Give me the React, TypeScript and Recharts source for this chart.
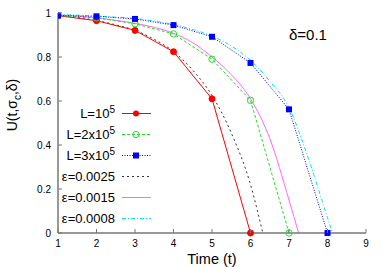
import React from "react";
import { LineChart, Line, XAxis, YAxis } from "recharts";

const xTicks = [1, 2, 3, 4, 5, 6, 7, 8, 9];
const yTicks = [0, 0.2, 0.4, 0.6, 0.8, 1];

const seriesL1 = [
  { x: 1, y: 0.988 }, { x: 2, y: 0.965 }, { x: 3, y: 0.921 }, { x: 4, y: 0.824 },
  { x: 5, y: 0.61 }, { x: 6, y: 0 },
];
const seriesL2 = [
  { x: 1, y: 0.988 }, { x: 2, y: 0.978 }, { x: 3, y: 0.951 }, { x: 4, y: 0.905 },
  { x: 5, y: 0.79 }, { x: 6, y: 0.603 }, { x: 7, y: 0 },
];
const seriesL3 = [
  { x: 1, y: 0.988 }, { x: 2, y: 0.985 }, { x: 3, y: 0.973 }, { x: 4, y: 0.945 },
  { x: 5, y: 0.892 }, { x: 6, y: 0.773 }, { x: 7, y: 0.562 }, { x: 8, y: 0 },
];
const seriesE1 = [
  { x: 1, y: 0.99 }, { x: 1.5, y: 0.98 }, { x: 2, y: 0.966 }, { x: 2.5, y: 0.946 },
  { x: 3, y: 0.921 }, { x: 3.5, y: 0.88 }, { x: 4, y: 0.825 }, { x: 4.5, y: 0.74 },
  { x: 5, y: 0.625 }, { x: 5.5, y: 0.455 }, { x: 6, y: 0.22 }, { x: 6.32, y: 0 },
];
const seriesE2 = [
  { x: 1, y: 0.992 }, { x: 1.5, y: 0.986 }, { x: 2, y: 0.978 }, { x: 2.5, y: 0.967 },
  { x: 3, y: 0.953 }, { x: 3.5, y: 0.935 }, { x: 4, y: 0.908 }, { x: 4.5, y: 0.865 },
  { x: 5, y: 0.8 }, { x: 5.5, y: 0.72 }, { x: 6, y: 0.61 }, { x: 6.5, y: 0.43 },
  { x: 7, y: 0.15 }, { x: 7.25, y: 0 },
];
const seriesE3 = [
  { x: 1, y: 0.993 }, { x: 1.5, y: 0.99 }, { x: 2, y: 0.986 }, { x: 2.5, y: 0.981 },
  { x: 3, y: 0.975 }, { x: 3.5, y: 0.963 }, { x: 4, y: 0.948 }, { x: 4.5, y: 0.925 },
  { x: 5, y: 0.895 }, { x: 5.5, y: 0.85 }, { x: 6, y: 0.785 }, { x: 6.5, y: 0.69 },
  { x: 7, y: 0.57 }, { x: 7.5, y: 0.34 }, { x: 8, y: 0.07 }, { x: 8.13, y: 0 },
];

const FONT = "'Liberation Sans', Arial, sans-serif";
const AXIS = "#777777";

const BottomTick = (p: any) => (
  <g>
    <line x1={p.x} y1={p.y} x2={p.x} y2={p.y - 4} stroke={AXIS} />
    <text x={p.x} y={p.y + 14} textAnchor="middle" fontSize={10} fontFamily={FONT} fill="#000">
      {p.payload.value}
    </text>
  </g>
);
const TopTick = (p: any) => (
  <line x1={p.x} y1={p.y} x2={p.x} y2={p.y + 4} stroke={AXIS} />
);
const LeftTick = (p: any) => (
  <g>
    <line x1={p.x} y1={p.y} x2={p.x + 4} y2={p.y} stroke={AXIS} />
    <text x={p.x - 7} y={p.y + 3.5} textAnchor="end" fontSize={10} fontFamily={FONT} fill="#000">
      {p.payload.value}
    </text>
  </g>
);
const RightTick = (p: any) => (
  <line x1={p.x} y1={p.y} x2={p.x - 4} y2={p.y} stroke={AXIS} />
);

const RedDot = (p: any) => <circle key={p.key ?? p.index} cx={p.cx} cy={p.cy} r={3} fill="#ff0000" stroke="#ff0000" />;
const GreenDot = (p: any) => <circle key={p.key ?? p.index} cx={p.cx} cy={p.cy} r={3.2} fill="none" stroke="#22dd22" strokeWidth={1} />;
const BlueDot = (p: any) => <rect key={p.key ?? p.index} x={p.cx - 3} y={p.cy - 3} width={6} height={6} fill="#0000ff" />;

const legendRows = [
  { kind: "L", mult: "", color: "#ff0000", dash: undefined, marker: "circle" },
  { kind: "L", mult: "2x", color: "#22dd22", dash: "3 2", marker: "ring" },
  { kind: "L", mult: "3x", color: "#0000ff", dash: "1 1.5", marker: "square" },
  { kind: "e", label: "ε=0.0025", color: "#333333", dash: "2 3" },
  { kind: "e", label: "ε=0.0015", color: "#ff66ff", dash: undefined },
  { kind: "e", label: "ε=0.0008", color: "#00e5e5", dash: "4 2 1 2" },
];

export default function App() {
  return (
    <div style={{ position: "absolute", left: 0, top: 0, width: 382, height: 267, background: "#fff" }}>
      <LineChart
        width={382}
        height={267}
        margin={{ top: 13, right: 16, left: 0, bottom: 0 }}
      >
        <XAxis
          xAxisId="b"
          dataKey="x"
          type="number"
          domain={[1, 9]}
          ticks={xTicks}
          height={34}
          tickSize={0}
          tickMargin={0}
          axisLine={{ stroke: AXIS, strokeWidth: 1.5 }}
          tickLine={false}
          tick={BottomTick}
          allowDataOverflow
        />
        <XAxis
          xAxisId="t"
          orientation="top"
          dataKey="x"
          type="number"
          domain={[1, 9]}
          ticks={xTicks}
          height={0}
          tickSize={0}
          tickMargin={0}
          axisLine={{ stroke: AXIS, strokeWidth: 1.5 }}
          tickLine={false}
          tick={TopTick}
        />
        <YAxis
          yAxisId="l"
          type="number"
          domain={[0, 1]}
          ticks={yTicks}
          width={58}
          tickSize={0}
          tickMargin={0}
          axisLine={{ stroke: AXIS, strokeWidth: 1.5 }}
          tickLine={false}
          tick={LeftTick}
          label={
            <text
              x={14}
              y={120}
              transform="rotate(-90 14 120)"
              textAnchor="middle"
              fontSize={14}
              fontFamily={FONT}
              fill="#000"
            >
              U(t,σ<tspan fontSize={10} dy={4}>c</tspan>
              <tspan dy={-4}>,δ)</tspan>
            </text>
          }
        />
        <YAxis
          yAxisId="r"
          orientation="right"
          type="number"
          domain={[0, 1]}
          ticks={yTicks}
          width={0}
          tickSize={0}
          tickMargin={0}
          axisLine={{ stroke: AXIS, strokeWidth: 1.5 }}
          tickLine={false}
          tick={RightTick}
        />
        <Line xAxisId="b" yAxisId="l" data={seriesE1} dataKey="y" type="monotone" stroke="#333333" strokeWidth={1} strokeDasharray="2 3" dot={false} isAnimationActive={false} />
        <Line xAxisId="b" yAxisId="l" data={seriesE2} dataKey="y" type="monotone" stroke="#ff66ff" strokeWidth={1} dot={false} isAnimationActive={false} />
        <Line xAxisId="b" yAxisId="l" data={seriesE3} dataKey="y" type="monotone" stroke="#00e5e5" strokeWidth={1} strokeDasharray="4 2 1 2" dot={false} isAnimationActive={false} />
        <Line xAxisId="b" yAxisId="l" data={seriesL1} dataKey="y" type="linear" stroke="#ff0000" strokeWidth={1} dot={RedDot} isAnimationActive={false} />
        <Line xAxisId="b" yAxisId="l" data={seriesL2} dataKey="y" type="linear" stroke="#22dd22" strokeWidth={1} strokeDasharray="3 2" dot={GreenDot} isAnimationActive={false} />
        <Line xAxisId="b" yAxisId="l" data={seriesL3} dataKey="y" type="linear" stroke="#0000ff" strokeWidth={1} strokeDasharray="1 1.5" dot={BlueDot} isAnimationActive={false} />
      </LineChart>
      <svg width={382} height={267} style={{ position: "absolute", left: 0, top: 0, pointerEvents: "none" }}>
        <text x={289} y={40} fontSize={15} fontFamily={FONT} fill="#000">δ=0.1</text>
        <text x={212} y={264} textAnchor="middle" fontSize={14.5} fontFamily={FONT} fill="#000">Time (t)</text>
        {legendRows.map((r, i) => {
          const y = 113.5 + i * 21;
          return (
            <g key={i}>
              <text x={115} y={y + 4.5} textAnchor="end" fontSize={13} fontFamily={FONT} fill="#000">
                {r.kind === "L" ? (
                  <>
                    L={r.mult}10<tspan fontSize={10} dy={-5}>5</tspan>
                  </>
                ) : (
                  r.label
                )}
              </text>
              <line x1={122} y1={y} x2={151} y2={y} stroke={r.color} strokeWidth={1} strokeDasharray={r.dash} />
              {r.marker === "circle" && <circle cx={136} cy={y} r={3} fill="#ff0000" />}
              {r.marker === "ring" && <circle cx={136} cy={y} r={3.2} fill="none" stroke="#22dd22" />}
              {r.marker === "square" && <rect x={133} y={y - 3} width={6} height={6} fill="#0000ff" />}
            </g>
          );
        })}
      </svg>
    </div>
  );
}
